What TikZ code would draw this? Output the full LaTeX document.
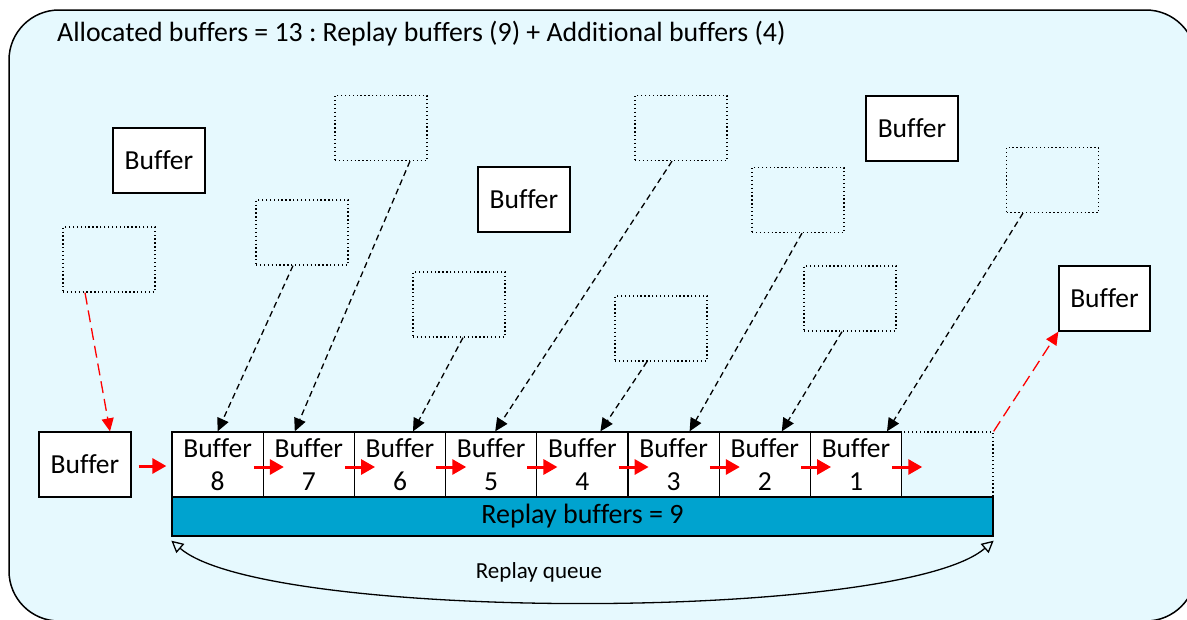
\documentclass[tikz,border=0pt]{standalone}
\usepackage{fontspec}
\setmainfont[Ligatures=NoCommon]{Carlito}
\usetikzlibrary{arrows.meta}
\definecolor{bgc}{HTML}{E6F9FE}
\definecolor{barc}{HTML}{00A3CF}
\frenchspacing
\begin{document}
\begin{tikzpicture}[x=1pt,y=-1pt,
 buf/.style={draw, line width=1.3pt, fill=white, inner sep=0pt, minimum width=92pt, minimum height=65pt, font=\fontsize{27.5}{30}\selectfont},
 slotbox/.style={buf, minimum width=91.2pt, align=center, font=\fontsize{27.5}{33}\selectfont},
 ghost/.style={draw, dash pattern=on 1.3pt off 2.6pt, line width=1.3pt, inner sep=0pt, minimum width=92pt, minimum height=65pt},
 mv/.style={dash pattern=on 6pt off 4pt, line width=1.3pt, -{Triangle[length=13pt,width=12pt]}},
 rmv/.style={red, dash pattern=on 12pt off 6pt, line width=1.3pt, -{Triangle[length=13pt,width=12pt]}},
 push/.style={red, line width=3pt, -{Triangle[length=14pt,width=15pt]}}]
\useasboundingbox (0,0) rectangle (1187,619);
\clip (0,0) rectangle (1187,619);
\draw[rounded corners=50pt, fill=bgc, line width=1.5pt] (9,10) rectangle (1196,621);
\node[anchor=base west, inner sep=0pt, font=\fontsize{27.8}{30}\selectfont] (title) at (57,41) {Allocated buffers = 13 : Replay buffers (9) + Additional buffers (4)};
% free buffers
\node[buf] (f1) at (159,160.5) {Buffer};
\node[buf] (f2) at (524,199.5) {Buffer};
\node[buf] (f3) at (912,128.5) {Buffer};
\node[buf, minimum width=91pt] (f4) at (1104.5,298.5) {Buffer};
% ghosts
\node[ghost] (g1) at (109,259.5) {};
\node[ghost] (g2) at (381,128) {};
\node[ghost] (g3) at (302,232.5) {};
\node[ghost] (g4) at (459,304.5) {};
\node[ghost] (g5) at (681,128) {};
\node[ghost] (g6) at (798,200) {};
\node[ghost] (g7) at (661,328.5) {};
\node[ghost] (g8) at (850,298.5) {};
\node[ghost] (g9) at (1052.5,180) {};
% queue
\node[buf] (lb) at (85,464.5) {Buffer};
\node[ghost, minimum width=93pt] (slot) at (946.5,464.5) {};
\node[slotbox] (b8) at (217.6,464.5) {Buffer\\8};
\node[slotbox] (b7) at (308.8,464.5) {Buffer\\7};
\node[slotbox] (b6) at (400.0,464.5) {Buffer\\6};
\node[slotbox] (b5) at (491.2,464.5) {Buffer\\5};
\node[slotbox] (b4) at (582.4,464.5) {Buffer\\4};
\node[slotbox] (b3) at (673.6,464.5) {Buffer\\3};
\node[slotbox] (b2) at (764.8,464.5) {Buffer\\2};
\node[slotbox] (b1) at (856.0,464.5) {Buffer\\1};
\node[draw, line width=1.3pt, fill=barc, inner sep=0pt, minimum width=821pt, minimum height=39pt, font=\fontsize{28}{30}\selectfont] (bar) at (582.5,516.5) {Replay buffers = 9};
% moves into queue
\draw[mv] ([xshift=-9pt]g3.south) -- (b8.north);
\draw[mv] ([xshift=29pt]g2.south) -- ([xshift=-14pt]b7.north);
\draw[mv] ([xshift=4pt]g4.south) -- ([xshift=13pt]b6.north);
\draw[mv] ([xshift=-9pt]g5.south) -- ([xshift=4pt]b5.north);
\draw[mv] ([xshift=-14pt]g7.south) -- ([xshift=18pt]b4.north);
\draw[mv] ([xshift=4pt]g6.south) -- ([xshift=16pt]b3.north);
\draw[mv] ([xshift=-8pt]g8.south) -- ([xshift=17pt]b2.north);
\draw[mv] ([xshift=-29.5pt]g9.south) -- ([xshift=31pt]b1.north);
\draw[rmv] ([xshift=-24pt]g1.south) -- ([xshift=25pt]lb.north);
\draw[rmv] (slot.north east) -- (f4.south west);
% pushes
\draw[push] ([xshift=7pt,yshift=-1.5pt]lb.east) -- ([xshift=-5pt,yshift=-1.5pt]b8.west);
\foreach \n in {b8,b7,b6,b5,b4,b3,b2,b1}
  \draw[push] ([xshift=-10pt,yshift=-2.5pt]\n.east) -- ([xshift=20pt,yshift=-2.5pt]\n.east);
% replay queue arc
\draw[line width=1.3pt, {Triangle[open,length=12pt,width=12pt]}-{Triangle[open,length=12pt,width=12pt]}]
  ([yshift=-4pt]bar.south west) .. controls (265,622) and (900,622) .. ([yshift=-4pt]bar.south east);
\node[font=\fontsize{23}{26}\selectfont] (rq) at (539,572) {Replay queue};
\end{tikzpicture}
\end{document}
